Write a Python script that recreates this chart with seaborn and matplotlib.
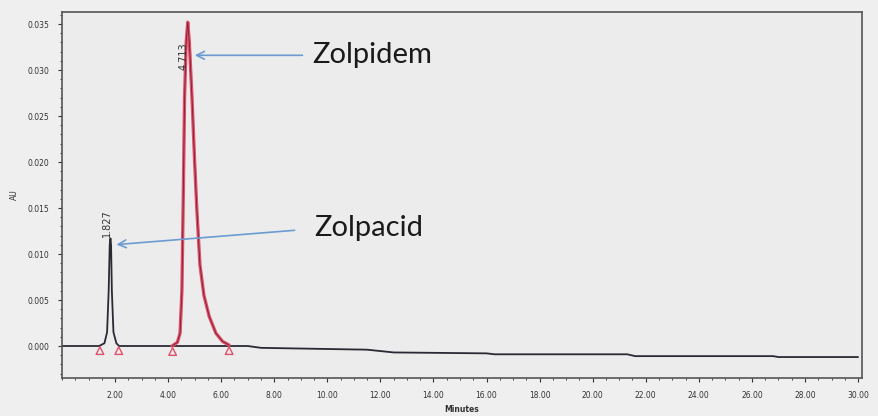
import numpy as np
import pandas as pd
import matplotlib
matplotlib.use("Agg")
import matplotlib.pyplot as plt
from matplotlib.ticker import MultipleLocator, FormatStrFormatter
import seaborn as sns

# detector trace (baseline + zolpacid peak)
trace_min = [0.00, 1.40, 1.60, 1.70, 1.76, 1.80, 1.827, 1.85, 1.88, 1.94, 2.05, 2.15,
             4.15, 7.00, 7.50, 11.50, 12.50, 16.00, 16.30, 21.30, 21.60, 26.80, 27.00, 30.00]
trace_au = [0.0000, 0.0000, 0.0003, 0.0015, 0.0060, 0.0110, 0.0117, 0.0110, 0.0060, 0.0015, 0.0003, 0.0000,
            0.0000, 0.0000, -0.0002, -0.0004, -0.0007, -0.0008, -0.0009, -0.0009, -0.0011, -0.0011, -0.0012, -0.0012]

# zolpidem peak (integrated, drawn red)
zolp_min = [4.15, 4.35, 4.45, 4.52, 4.57, 4.62, 4.68, 4.74, 4.80, 4.90, 5.00, 5.08,
            5.20, 5.35, 5.55, 5.80, 6.05, 6.30]
zolp_au = [0.0000, 0.0004, 0.0014, 0.0060, 0.0160, 0.0270, 0.0330, 0.0352, 0.0330, 0.0270, 0.0200, 0.0150,
           0.0088, 0.0055, 0.0032, 0.0014, 0.0005, 0.0001]

# peak start / end markers
mark_min = [1.43, 2.14, 4.17, 6.30]
mark_au = [-0.0005, -0.0005, -0.0006, -0.0005]

rt_labels = ["1.827", "4.713"]
rt_min = [1.827, 4.713]
rt_au = [0.0119, 0.0300]

names = ["Zolpidem", "Zolpacid"]
name_xy = [(9.45, 0.0316), (9.5, 0.0128)]
arrow_tail = [(9.17, 0.0316), (8.87, 0.0126)]
arrow_tip = [(4.90, 0.0316), (1.95, 0.0110)]

trace = pd.DataFrame({"min": trace_min, "au": trace_au})
zolp = pd.DataFrame({"min": zolp_min, "au": zolp_au})
marks = pd.DataFrame({"min": mark_min, "au": mark_au})

sns.set_style("ticks")
plt.rcParams["font.family"] = ["DejaVu Sans"]

fig = plt.figure(figsize=(8.79, 4.16), dpi=100, facecolor="#efefef")
ax = fig.add_axes([0.0705, 0.0913, 0.9102, 0.8797])
ax.set_facecolor("#ececec")

sns.lineplot(data=trace, x="min", y="au", color="#2a2a35", linewidth=1.3, ax=ax, sort=False)
sns.lineplot(data=zolp, x="min", y="au", color="#e0506a", linewidth=2.4, ax=ax, sort=False)
sns.lineplot(data=zolp, x="min", y="au", color="#7a2030", linewidth=0.6, ax=ax, sort=False)
sns.scatterplot(data=marks, x="min", y="au", marker="^", s=30, facecolor="none",
                edgecolor="#e0506a", linewidth=1.0, ax=ax, zorder=5)

for lab, x, y in zip(rt_labels, rt_min, rt_au):
    ax.text(x - 0.12, y, lab, rotation=90, fontsize=7, color="#333333", ha="center", va="bottom")

for name, (tx, ty), tail, tip in zip(names, name_xy, arrow_tail, arrow_tip):
    ax.annotate("", xy=tip, xytext=tail,
                arrowprops=dict(arrowstyle="->", color="#6b9bd1", lw=1.2, mutation_scale=14))
    ax.text(tx, ty, name, fontsize=21, family="Lato", color="#1a1a1a", va="center", ha="left")

ax.set_xlim(0, 30.15)
ax.set_ylim(-0.00348, 0.0363)
ax.set_xticks(np.arange(2, 31, 2))
ax.xaxis.set_major_formatter(FormatStrFormatter("%.2f"))
ax.xaxis.set_minor_locator(MultipleLocator(0.5))
ax.set_yticks(np.arange(0, 0.0351, 0.005))
ax.yaxis.set_major_formatter(FormatStrFormatter("%.3f"))
ax.yaxis.set_minor_locator(MultipleLocator(0.001))
ax.tick_params(axis="both", labelsize=5.5, colors="#333333", length=3, width=0.8, pad=6)
ax.tick_params(axis="both", which="minor", length=1.5, width=0.6)

for side in ["left", "bottom", "top", "right"]:
    ax.spines[side].set_visible(True)
    ax.spines[side].set_color("#555555")
    ax.spines[side].set_linewidth(1.2)

ax.set_xlabel("Minutes", fontsize=5.5, fontweight="bold", color="#333333", labelpad=4)
ax.set_ylabel("AU", fontsize=5.5, color="#333333", labelpad=6)

fig.savefig("out.png", dpi=100, facecolor=fig.get_facecolor())
